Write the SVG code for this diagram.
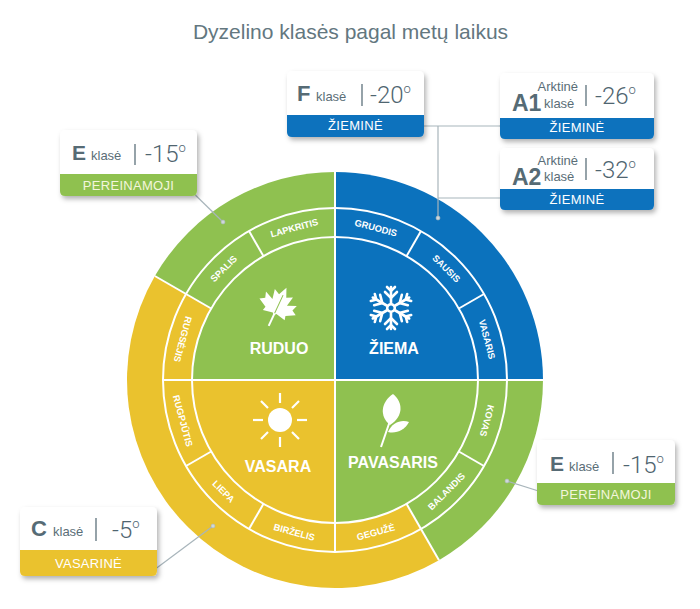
<svg xmlns="http://www.w3.org/2000/svg" width="700" height="609" viewBox="0 0 700 609">
<style>
.title{font-family:"Liberation Sans",Arial,sans-serif;font-size:21px;fill:#63777f}
.mon{font-family:"Liberation Sans",Arial,sans-serif;font-size:9.3px;font-weight:bold;fill:#fff;text-anchor:middle}
.sea{font-family:"Liberation Sans",Arial,sans-serif;font-size:16px;font-weight:bold;fill:#fff;text-anchor:middle}
.cls{font-family:"Liberation Sans",Arial,sans-serif;font-weight:bold;fill:#566b75}
.kl{font-family:"Liberation Sans",Arial,sans-serif;font-size:13px;fill:#5a6e77}
.tmp{font-family:Roboto,"Liberation Sans",sans-serif;font-weight:300;font-size:24px;fill:#4f6570}
.bar{font-family:"Liberation Sans",Arial,sans-serif;font-size:13px;letter-spacing:0.3px;text-anchor:middle}
.div{stroke:#4f6570;stroke-width:1.2}
.wl{stroke:#fff;stroke-width:2;fill:none}
.con{stroke:#a8b5bb;stroke-width:1.2;fill:none}
.dot{fill:#cfd7db;stroke:#a8b5bb;stroke-width:0.6}
.bl{fill:#0b72bd}.gr{fill:#8fc150}.ye{fill:#eac22e}
</style>
<defs>
<filter id="sh" x="-10%" y="-15%" width="125%" height="145%">
<feDropShadow dx="2" dy="3" stdDeviation="2.5" flood-color="#000" flood-opacity="0.3"/>
</filter>
<g id="arm">
<line x1="0" y1="-5" x2="0" y2="-21"/>
<polyline points="-6,-16 0,-10 6,-16"/>
<polyline points="-4,-21 0,-17 4,-21"/>
</g>
</defs>
<rect width="700" height="609" fill="#fff"/>
<text class="title" x="350.5" y="39" text-anchor="middle">Dyzelino klasės pagal metų laikus</text>

<g id="wheel">
<path class="bl" d="M335,380 L543,380 A208,208 0 0 0 335,172 Z"/>
<path class="gr" d="M335,380 L335,172 A208,208 0 0 0 154.87,276 Z"/>
<path class="ye" d="M335,380 L154.87,276 A208,208 0 0 0 439,560.13 Z"/>
<path class="gr" d="M335,380 L439,560.13 A208,208 0 0 0 543,380 Z"/>
<path class="bl" d="M335,380 L478,380 A143,143 0 0 0 335,237 Z"/>
<path class="gr" d="M335,380 L335,237 A143,143 0 0 0 192,380 Z"/>
<path class="ye" d="M335,380 L192,380 A143,143 0 0 0 335,523 Z"/>
<path class="gr" d="M335,380 L335,523 A143,143 0 0 0 478,380 Z"/>
<circle class="wl" cx="335" cy="380" r="143"/>
<circle class="wl" cx="335" cy="380" r="172"/>
<line class="wl" x1="163" y1="380" x2="543" y2="380"/>
<line class="wl" x1="335" y1="172" x2="335" y2="552"/>
<line class="wl" x1="458.84" y1="308.5" x2="483.96" y2="294"/>
<line class="wl" x1="406.5" y1="256.16" x2="421" y2="231.04"/>
<line class="wl" x1="263.5" y1="256.16" x2="249" y2="231.04"/>
<line class="wl" x1="211.16" y1="308.5" x2="154.87" y2="276"/>
<line class="wl" x1="211.16" y1="451.5" x2="186.04" y2="466"/>
<line class="wl" x1="263.5" y1="503.84" x2="249" y2="528.96"/>
<line class="wl" x1="406.5" y1="503.84" x2="439" y2="560.13"/>
<line class="wl" x1="458.84" y1="451.5" x2="483.96" y2="466"/>
</g>

<g id="months">
<text class="mon" transform="translate(294.23,227.87) rotate(-15)" dy="3.3">LAPKRITIS</text>
<text class="mon" transform="translate(223.63,268.63) rotate(-45)" dy="3.3">SPALIS</text>
<text class="mon" transform="translate(375.77,227.87) rotate(15)" dy="3.3">GRUODIS</text>
<text class="mon" transform="translate(446.37,268.63) rotate(45)" dy="3.3">SAUSIS</text>
<text class="mon" transform="translate(487.13,339.23) rotate(75)" dy="3.3">VASARIS</text>
<text class="mon" transform="translate(487.13,420.77) rotate(105)" dy="3.3">KOVAS</text>
<text class="mon" transform="translate(446.37,491.37) rotate(-45)" dy="3.3">BALANDIS</text>
<text class="mon" transform="translate(375.77,532.13) rotate(-15)" dy="3.3">GEGUŽĖ</text>
<text class="mon" transform="translate(294.23,532.13) rotate(15)" dy="3.3">BIRŽELIS</text>
<text class="mon" transform="translate(223.63,491.37) rotate(45)" dy="3.3">LIEPA</text>
<text class="mon" transform="translate(182.87,420.77) rotate(75)" dy="3.3">RUGPJŪTIS</text>
<text class="mon" transform="translate(182.87,339.23) rotate(105)" dy="3.3">RUGSĖJIS</text>
</g>

<g id="ruduo">
<g transform="translate(278,306) rotate(25)" fill="#fff">
<path d="M0,-20 L4,-11 L10,-14 L8,-4 L17,-8 L15,-2 L20,1 L11,6 L12,10 L2,8 L0,10 L-2,8 L-12,10 L-11,6 L-20,1 L-15,-2 L-17,-8 L-8,-4 L-10,-14 L-4,-11 Z"/>
<line x1="0" y1="6" x2="0" y2="22" stroke="#fff" stroke-width="2"/>
<line x1="0" y1="8" x2="0" y2="-12" stroke="#8fc150" stroke-width="1"/>
</g>
<text class="sea" x="279" y="354">RUDUO</text>
</g>

<g id="ziema">
<g transform="translate(391,308)" stroke="#fff" stroke-width="2.6" fill="none" stroke-linecap="round">
<circle r="3.8"/>
<use href="#arm"/>
<use href="#arm" transform="rotate(60)"/>
<use href="#arm" transform="rotate(120)"/>
<use href="#arm" transform="rotate(180)"/>
<use href="#arm" transform="rotate(240)"/>
<use href="#arm" transform="rotate(300)"/>
</g>
<text class="sea" x="394" y="354">ŽIEMA</text>
</g>

<g id="vasara">
<g transform="translate(280,420)" stroke="#fff" stroke-width="2.2">
<circle r="12" fill="#fff" stroke="none"/>
<line x1="17" y1="0" x2="27" y2="0"/>
<line x1="-17" y1="0" x2="-27" y2="0"/>
<line x1="0" y1="17" x2="0" y2="27"/>
<line x1="0" y1="-17" x2="0" y2="-27"/>
<line x1="12" y1="12" x2="19" y2="19"/>
<line x1="-12" y1="12" x2="-19" y2="19"/>
<line x1="12" y1="-12" x2="19" y2="-19"/>
<line x1="-12" y1="-12" x2="-19" y2="-19"/>
</g>
<text class="sea" x="278" y="472">VASARA</text>
</g>

<g id="pavasaris">
<path d="M393,394 C403,402 404,416 390,425 C379,416 381,402 393,394 Z" fill="#fff"/>
<path d="M388,432 C392,422 402,419 409,422 C405,430 396,434 388,432 Z" fill="#fff"/>
<line x1="381" y1="447" x2="391" y2="418" stroke="#fff" stroke-width="2"/>
<text class="sea" x="393" y="468">PAVASARIS</text>
</g>

<g id="connectors">
<line class="con" x1="185" y1="185" x2="223" y2="222"/>
<line class="con" x1="410" y1="126" x2="502" y2="126"/>
<line class="con" x1="438" y1="126" x2="438" y2="218"/>
<line class="con" x1="438" y1="198" x2="503" y2="198"/>
<line class="con" x1="507" y1="481" x2="548" y2="494"/>
<line class="con" x1="154" y1="570" x2="213" y2="526"/>
<circle class="dot" cx="185" cy="185" r="2"/>
<circle class="dot" cx="223" cy="222" r="2"/>
<circle class="dot" cx="410" cy="126" r="2"/>
<circle class="dot" cx="502" cy="126" r="2"/>
<circle class="dot" cx="503" cy="198" r="2"/>
<circle class="dot" cx="438" cy="218" r="2"/>
<circle class="dot" cx="507" cy="481" r="2"/>
<circle class="dot" cx="548" cy="494" r="2"/>
<circle class="dot" cx="154" cy="570" r="2"/>
<circle class="dot" cx="213" cy="526" r="2"/>
</g>

<g id="box-e-left">
<g filter="url(#sh)">
<rect x="60" y="130" width="137" height="66" rx="5" fill="#fff"/>
<path class="gr" d="M60,174 H197 V191 Q197,196 192,196 H65 Q60,196 60,191 Z"/>
</g>
<text class="cls" x="72" y="160" font-size="21">E</text>
<text class="kl" x="91" y="160">klasė</text>
<line class="div" x1="135" y1="144" x2="135" y2="165"/>
<text class="tmp" x="145" y="162">-15<tspan font-size="13" dy="-10">o</tspan></text>
<text class="bar" x="128.5" y="190" fill="#f3f6dc">PEREINAMOJI</text>
</g>

<g id="box-f">
<g filter="url(#sh)">
<rect x="287" y="71" width="137" height="66" rx="5" fill="#fff"/>
<path class="bl" d="M287,115 H424 V132 Q424,137 419,137 H292 Q287,137 287,132 Z"/>
</g>
<text class="cls" x="297" y="101" font-size="22">F</text>
<text class="kl" x="316" y="101">klasė</text>
<line class="div" x1="362" y1="84" x2="362" y2="106"/>
<text class="tmp" x="370" y="103">-20<tspan font-size="13" dy="-10">o</tspan></text>
<text class="bar" x="355.5" y="130" fill="#fff">ŽIEMINĖ</text>
</g>

<g id="box-a1">
<g filter="url(#sh)">
<rect x="500" y="73" width="154" height="66" rx="5" fill="#fff"/>
<path class="bl" d="M500,118 H654 V134 Q654,139 649,139 H505 Q500,139 500,134 Z"/>
</g>
<text class="kl" x="578" y="91" text-anchor="end">Arktinė</text>
<text class="cls" x="512" y="111" font-size="23">A1</text>
<text class="kl" x="544" y="108">klasė</text>
<line class="div" x1="586" y1="85" x2="586" y2="106"/>
<text class="tmp" x="595" y="104">-26<tspan font-size="13" dy="-10">o</tspan></text>
<text class="bar" x="577" y="132" fill="#fff">ŽIEMINĖ</text>
</g>

<g id="box-a2">
<g filter="url(#sh)">
<rect x="500" y="148" width="154" height="62" rx="5" fill="#fff"/>
<path class="bl" d="M500,189 H654 V205 Q654,210 649,210 H505 Q500,210 500,205 Z"/>
</g>
<text class="kl" x="578" y="165" text-anchor="end">Arktinė</text>
<text class="cls" x="512" y="185" font-size="23">A2</text>
<text class="kl" x="544" y="181">klasė</text>
<line class="div" x1="586" y1="158" x2="586" y2="180"/>
<text class="tmp" x="595" y="178">-32<tspan font-size="13" dy="-10">o</tspan></text>
<text class="bar" x="577" y="204" fill="#fff">ŽIEMINĖ</text>
</g>

<g id="box-e-right">
<g filter="url(#sh)">
<rect x="537" y="440" width="138" height="65" rx="5" fill="#fff"/>
<path class="gr" d="M537,483 H675 V500 Q675,505 670,505 H542 Q537,505 537,500 Z"/>
</g>
<text class="cls" x="550" y="471" font-size="21">E</text>
<text class="kl" x="569" y="471">klasė</text>
<line class="div" x1="613" y1="452" x2="613" y2="474"/>
<text class="tmp" x="623" y="473">-15<tspan font-size="13" dy="-10">o</tspan></text>
<text class="bar" x="606" y="499" fill="#f3f6dc">PEREINAMOJI</text>
</g>

<g id="box-c">
<g filter="url(#sh)">
<rect x="20" y="507" width="137" height="69" rx="5" fill="#fff"/>
<path class="ye" d="M20,550 H157 V571 Q157,576 152,576 H25 Q20,576 20,571 Z"/>
</g>
<text class="cls" x="31" y="536" font-size="22">C</text>
<text class="kl" x="53" y="536">klasė</text>
<line class="div" x1="96" y1="518" x2="96" y2="541"/>
<text class="tmp" x="112" y="538">-5<tspan font-size="13" dy="-10">o</tspan></text>
<text class="bar" x="88.5" y="568" fill="#fff">VASARINĖ</text>
</g>
</svg>
